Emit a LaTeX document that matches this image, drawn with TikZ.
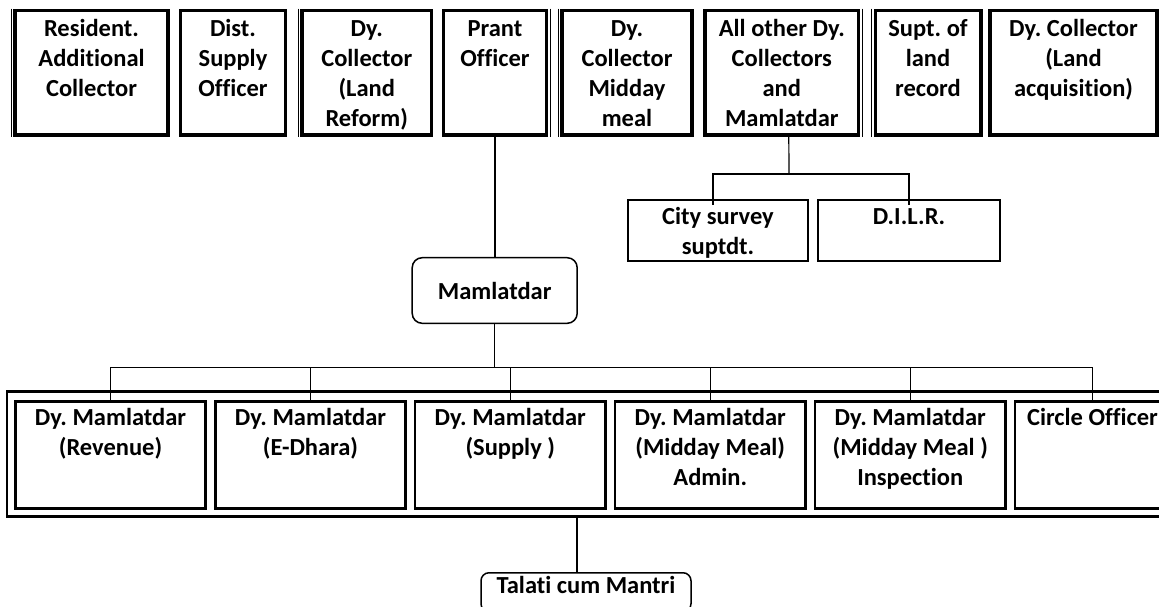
\documentclass[tikz,border=0pt]{standalone}
\usepackage{fontspec}
\setmainfont{Carlito}[RawFeature=-liga]
\usepackage{tikz}

\begin{document}
\begin{tikzpicture}[x=1pt, y=-1pt,
    every node/.style={font=\bfseries\fontsize{24.5}{30}\selectfont\frenchspacing},
    txt/.style n args={3}{inner sep=0pt,
        execute at begin node={\begin{minipage}[t][#2][t]{#1}\centering\rule{0pt}{#3}},
        execute at end node={\end{minipage}}},
    head/.style={draw, line width=3.6pt, txt={#1}{124.4pt}{26.5pt}},
    dep/.style={draw, line width=2.5pt, txt={#1}{107pt}{24pt}},
    sub/.style={draw, line width=2pt, txt={#1}{61pt}{24.5pt}},
    rbox/.style={draw, line width=1.5pt, rounded corners=10pt},
    con/.style={line width=1.2pt}]
\useasboundingbox (0,0) rectangle (1159,606);

% top row
\foreach \i/\cx/\w/\lab in {1/91.5/153/{Resident.\\Additional\\Collector},
    2/233/105/{Dist.\\Supply\\Officer},
    3/366.75/129.5/{Dy.\\Collector\\(Land\\Reform)},
    4/495/103/{Prant\\Officer},
    5/627/130.5/{Dy.\\Collector\\Midday\\meal},
    6/781.8/153.7/{All other Dy.\\Collectors\\and\\Mamlatdar},
    7/928/105.4/{Supt. of\\land\\record},
    8/1073.5/167/{Dy. Collector\\(Land\\acquisition)}} {
    \node[head=\w pt] (b\i) at (\cx,72.5) {\lab};
}
% thin second line on the doubled sides
\foreach \i/\s/\d in {1/west/-2, 3/west/-2, 4/east/2, 5/west/-2, 6/east/2, 7/west/-2} {
    \draw[line width=0.8pt] ([xshift=\d pt]b\i.north \s) -- ([xshift=\d pt]b\i.south \s);
}

% survey offices
\node[sub=180pt] (c1) at (718,230.5) {City survey\\suptdt.};
\node[sub=182pt] (c2) at (909,230.5) {D.I.L.R.};

% Mamlatdar
\node[rbox, minimum width=165pt, minimum height=65.6pt] (mam) at (494.7,290.5) {Mamlatdar};

% deputies
\node[draw, line width=2.5pt, inner sep=0pt, minimum width=1173pt, minimum height=125pt] (frame) at (593.5,454.2) {};
\foreach \i/\cx/\w/\lab in {1/110.5/190/{Dy. Mamlatdar\\(Revenue)},
    2/310.5/190/{Dy. Mamlatdar\\(E-Dhara)},
    3/510.25/190.5/{Dy. Mamlatdar\\(Supply )},
    4/710.25/190.5/{Dy. Mamlatdar\\(Midday Meal)\\Admin.},
    5/910.25/190.5/{Dy. Mamlatdar\\(Midday Meal )\\Inspection},
    6/1092.5/155/{Circle Officer}} {
    \node[dep=\w pt] (m\i) at (\cx,455) {\lab};
}

% Talati
\node[rbox, rounded corners=8pt, anchor=north, minimum width=210pt, inner sep=4pt,
    text height=17pt, text depth=14pt] (tal) at (586,572) {Talati cum Mantri};

% connectors
\draw[con] (b4.south) -- (b4.south |- mam.north);
\coordinate (cbus) at (789,174);
\draw[con] ([xshift=7pt]b6.south) -- (cbus);
\draw[con] (cbus) -| ([xshift=-5pt,yshift=-6pt]c1.north);
\draw[con] (cbus) -| ([yshift=-6pt]c2.north);
\coordinate (bus) at (494.7,367.5);
\draw[con] (mam.south) -- (bus);
\foreach \i in {1,...,6} {
    \draw[con] (bus) -| (m\i.north);
}
\draw[con] ([xshift=-9pt]tal.north |- frame.south) -- ([xshift=-9pt]tal.north);
\end{tikzpicture}
\end{document}
